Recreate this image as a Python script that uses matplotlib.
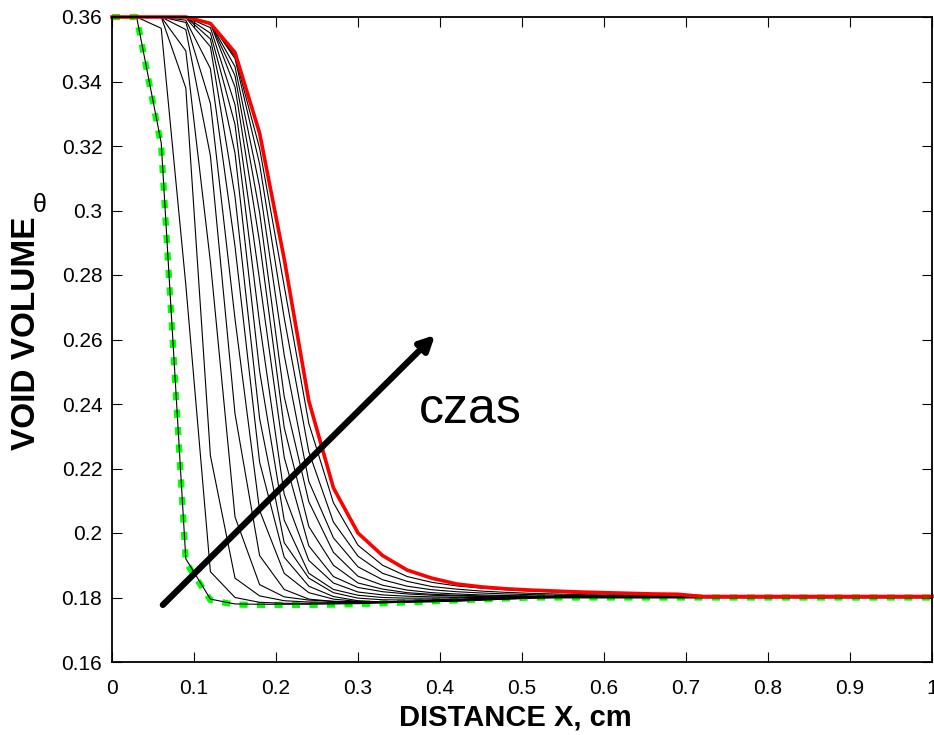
import numpy as np
import matplotlib
matplotlib.use('Agg')
import matplotlib.pyplot as plt

plt.rcParams['font.family'] = ['Liberation Sans', 'DejaVu Sans']

# grid nodes (cm)
x = [0, .03, .06, .09, .12, .15, .18, .21, .24, .27, .30, .33, .36,
     .39, .42, .45, .48, .51, .54, .57, .60, .63, .66, .69, .72, 1.0]

# initial profile (green dashed)
green = [.36, .36, .32, .191, .1792, .1778, .1777, .1777, .1777, .1778, .178, .1782, .1785,
         .1788, .1791, .1794, .1797, .18, .18, .18, .18, .18, .18, .18, .18, .18]

# intermediate profiles (black)
b1 = [.36, .36, .321, .192, .1795, .178, .1779, .1779, .1779, .178, .1781, .1783, .1786,
      .1789, .1792, .1795, .1798, .18, .18, .18, .18, .18, .18, .18, .18, .18]
b2 = [.36, .36, .3565, .277, .188, .18, .1785, .1782, .1782, .1782, .1783, .1785, .1787,
      .1789, .1792, .1795, .1798, .18, .18, .18, .18, .18, .18, .18, .18, .18]
b3 = [.36, .36, .36, .338, .224, .186, .1805, .179, .1786, .1785, .1785, .1786, .1788,
      .179, .1793, .1796, .1799, .18, .18, .18, .18, .18, .18, .18, .18, .18]
b4 = [.36, .36, .36, .3495, .2841, .205, .184, .1802, .1792, .1788, .1787, .1787, .1788,
      .179, .1793, .1796, .1799, .18, .18, .18, .18, .18, .18, .18, .18, .18]
b5 = [.36, .36, .36, .3561, .317, .237, .193, .1825, .1795, .1788, .1786, .1786, .1787,
      .1789, .1792, .1795, .1798, .18, .18, .18, .18, .18, .18, .18, .18, .18]
b6 = [.36, .36, .36, .3583, .3332, .2664, .207, .1875, .1815, .1795, .1788, .1786, .1786,
      .1787, .1789, .1792, .1795, .1798, .18, .18, .18, .18, .18, .18, .18, .18]
b7 = [.36, .36, .36, .359, .344, .2889, .222, .1925, .1835, .1803, .179, .1786, .1786,
      .1787, .1789, .1792, .1795, .1798, .18, .18, .18, .18, .18, .18, .18, .18]
b8 = [.36, .36, .36, .3598, .3508, .3044, .2355, .197, .186, .1815, .1798, .1793, .1792,
      .1793, .1795, .1797, .1799, .18, .18, .18, .18, .18, .18, .18, .18, .18]
b9 = [.36, .36, .36, .36, .3532, .3178, .2502, .204, .1875, .1825, .1807, .18, .1798,
      .1798, .1799, .18, .18, .18, .18, .18, .18, .18, .18, .18, .18, .18]
b10 = [.36, .36, .36, .36, .355, .3267, .265, .212, .1915, .1845, .1817, .1808, .1804,
       .1802, .1801, .18, .18, .18, .18, .18, .18, .18, .18, .18, .18, .18]
b11 = [.36, .36, .36, .36, .3567, .3328, .2784, .2235, .196, .1865, .1831, .1818, .1811,
       .1807, .1805, .1803, .1802, .1802, .1801, .1801, .18, .18, .18, .18, .18, .18]
b12 = [.36, .36, .36, .36, .358, .3383, .2902, .2327, .202, .19, .1845, .1826, .1815,
       .181, .1807, .1805, .1804, .1803, .1802, .1802, .1801, .1801, .1801, .18, .18, .18]
b13 = [.36, .36, .36, .36, .3581, .3418, .2994, .2423, .2097, .194, .1866, .1838, .1823,
       .1815, .1811, .1808, .1806, .1805, .1804, .1803, .1803, .1802, .1802, .1801, .1801, .18]
b14 = [.36, .36, .36, .36, .3581, .3446, .3074, .2552, .216, .1985, .1895, .1855, .1835,
       .1824, .1818, .1814, .1811, .1809, .1807, .1806, .1805, .1804, .1803, .1802, .1802, .18]
b15 = [.36, .36, .36, .36, .3582, .3471, .3144, .2667, .2252, .2034, .1928, .1875, .185,
       .1834, .1826, .182, .1816, .1813, .1811, .1809, .1807, .1806, .1805, .1804, .1802, .18]
b16 = [.36, .36, .36, .36, .358, .3478, .3193, .2766, .234, .2094, .1962, .19, .1865,
       .1847, .1836, .1829, .1824, .182, .1817, .1813, .1811, .1809, .1807, .1805, .1803, .18]
blacks = [b1, b2, b3, b4, b5, b6, b7, b8, b9, b10, b11, b12, b13, b14, b15, b16]

# final profile (red)
red = [.36, .36, .36, .36, .358, .349, .324, .285, .241, .214, .200, .193, .1885,
       .186, .1842, .1833, .1827, .1823, .182, .1817, .1815, .1813, .1811, .181, .1803, .1803]

arrow_start = (0.062, 0.1777)
arrow_end = (0.394, 0.2614)

xticks = [0, .1, .2, .3, .4, .5, .6, .7, .8, .9, 1]
xticklabels = ['0', '0.1', '0.2', '0.3', '0.4', '0.5', '0.6', '0.7', '0.8', '0.9', '1']
yticks = [.16, .18, .20, .22, .24, .26, .28, .30, .32, .34, .36]
yticklabels = ['0.16', '0.18', '0.2', '0.22', '0.24', '0.26', '0.28', '0.3', '0.32', '0.34', '0.36']

fig = plt.figure(figsize=(9.34, 7.35), dpi=100)
ax = fig.add_axes([112/934, 1-662/735, 820/934, 645/735])

ax.plot(x, green, color='#00ff00', lw=4.5, dashes=(1.3, 1.5), dash_capstyle='butt', clip_on=False)
for c in blacks:
    ax.plot(x, c, color='k', lw=0.8)
ax.plot(x, red, color='r', lw=2.6, clip_on=False)

ax.annotate('', xy=arrow_end, xytext=arrow_start,
            arrowprops=dict(arrowstyle='-|>', color='k', lw=4.5, mutation_scale=22,
                            shrinkA=0, shrinkB=0))
ax.text(0.4366, 0.2381, 'czas', fontsize=36, ha='center', va='center')

ax.set_xlim(0, 1)
ax.set_ylim(0.16, 0.36)
ax.set_xticks(xticks)
ax.set_xticklabels(xticklabels)
ax.set_yticks(yticks)
ax.set_yticklabels(yticklabels)
ax.tick_params(direction='in', top=True, right=True, length=7, width=0.8, labelsize=15)
ax.tick_params(axis='x', pad=12)
ax.tick_params(axis='y', pad=7)
for s in ax.spines.values():
    s.set_linewidth(1.3)

fig.text(515/934, 1-718/735, 'DISTANCE X, cm', fontsize=21, fontweight='bold', ha='center', va='center')
fig.text(27/934, 1-333/735, 'VOID VOLUME', fontsize=24, fontweight='bold', rotation=90,
         ha='center', va='center')
fig.text(40/934, 1-205/735, 'θ', fontsize=18, ha='center', va='center')

fig.savefig('out.png', dpi=100)
